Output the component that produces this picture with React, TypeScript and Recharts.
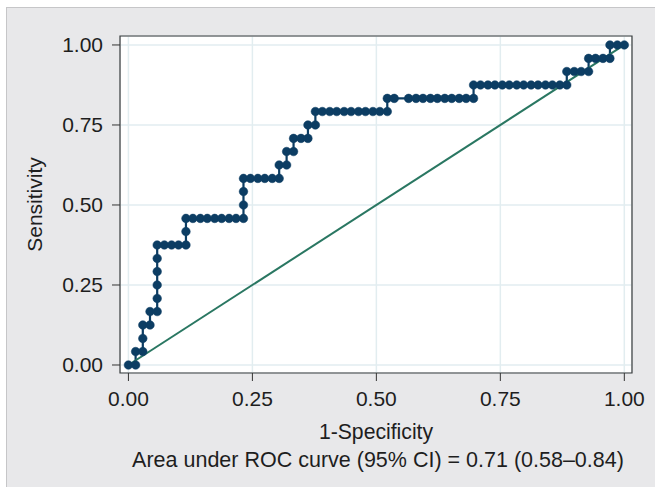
import {
  ComposedChart,
  Line,
  XAxis,
  YAxis,
  CartesianGrid,
  ReferenceArea,
} from 'recharts';

// ROC points: 1-specificity and sensitivity
const fprValues = [
  0, 0.0145, 0.0145, 0.029, 0.029, 0.029, 0.0435, 0.0435, 0.058, 0.058, 0.058, 0.058, 0.058, 0.058,
  0.0725, 0.087, 0.101, 0.116, 0.116, 0.116, 0.13, 0.145, 0.159, 0.174, 0.188, 0.203, 0.217, 0.232,
  0.232, 0.232, 0.232, 0.246, 0.261, 0.275, 0.29, 0.304, 0.304, 0.319, 0.319, 0.333, 0.333, 0.348,
  0.362, 0.362, 0.377, 0.377, 0.391, 0.406, 0.42, 0.435, 0.449, 0.464, 0.478, 0.493, 0.507, 0.522,
  0.522, 0.536, 0.565, 0.58, 0.594, 0.609, 0.623, 0.638, 0.652, 0.667, 0.681, 0.696, 0.696, 0.71,
  0.725, 0.739, 0.754, 0.768, 0.783, 0.797, 0.812, 0.826, 0.841, 0.855, 0.87, 0.884, 0.884, 0.899,
  0.913, 0.928, 0.928, 0.942, 0.957, 0.971, 0.971, 0.986, 1,
];

const sensValues = [
  0, 0, 0.042, 0.042, 0.083, 0.125, 0.125, 0.167, 0.167, 0.208, 0.25, 0.292, 0.333, 0.375,
  0.375, 0.375, 0.375, 0.375, 0.417, 0.458, 0.458, 0.458, 0.458, 0.458, 0.458, 0.458, 0.458, 0.458,
  0.5, 0.542, 0.583, 0.583, 0.583, 0.583, 0.583, 0.583, 0.625, 0.625, 0.667, 0.667, 0.708, 0.708,
  0.708, 0.75, 0.75, 0.792, 0.792, 0.792, 0.792, 0.792, 0.792, 0.792, 0.792, 0.792, 0.792, 0.792,
  0.833, 0.833, 0.833, 0.833, 0.833, 0.833, 0.833, 0.833, 0.833, 0.833, 0.833, 0.833, 0.875, 0.875,
  0.875, 0.875, 0.875, 0.875, 0.875, 0.875, 0.875, 0.875, 0.875, 0.875, 0.875, 0.875, 0.917, 0.917,
  0.917, 0.917, 0.958, 0.958, 0.958, 0.958, 1, 1, 1,
];

// chance line
const diagX = [0, 1];
const diagY = [0, 1];

const xTicks = [0, 0.25, 0.5, 0.75, 1];
const yTicks = [0, 0.25, 0.5, 0.75, 1];

const xTitle = '1-Specificity';
const yTitle = 'Sensitivity';
const note = 'Area under ROC curve (95% CI) = 0.71 (0.58–0.84)';

const rocData = fprValues.map((x, i) => ({ x, y: sensValues[i] }));
const diagData = diagX.map((x, i) => ({ x, y: diagY[i] }));

const NAVY = '#0c3d63';
const GREEN = '#2a7762';
const TEXT = '#1e1e1e';
const FONT = '"Liberation Sans", Arial, Helvetica, sans-serif';

const X_DOMAIN: [number, number] = [-0.017, 1.0155];
const Y_DOMAIN: [number, number] = [-0.025, 1.028];

const fmt = (v: number) => v.toFixed(2);

function XTitles(props: any) {
  const vb = props.viewBox || { x: 120, y: 373, width: 512, height: 114 };
  const cx = vb.x + vb.width / 2;
  return (
    <g fontFamily={FONT} fill={TEXT}>
      <text x={cx} y={vb.y + 65.5} textAnchor="middle" fontSize={21.2}>{xTitle}</text>
      <text x={cx + 2} y={vb.y + 93.7} textAnchor="middle" fontSize={21.5}>{note}</text>
    </g>
  );
}

function YTitle(props: any) {
  const vb = props.viewBox || { x: 0, y: 36, width: 120, height: 337 };
  const x = vb.x + 41.5;
  const y = vb.y + vb.height / 2;
  return (
    <text
      x={x}
      y={y}
      transform={`rotate(-90 ${x} ${y})`}
      textAnchor="middle"
      fontFamily={FONT}
      fontSize={21}
      fill={TEXT}
    >
      {yTitle}
    </text>
  );
}

export default function App() {
  return (
    <div style={{ position: 'absolute', left: 0, top: 0, width: 655, height: 487, background: '#fff' }}>
      <div
        style={{
          position: 'absolute',
          left: 6,
          top: 7,
          right: 0,
          bottom: 0,
          background: '#e8e8ea',
          borderLeft: '1px solid #c6c6c8',
          borderTop: '1px solid #c6c6c8',
        }}
      />
      <div style={{ position: 'absolute', left: 0, top: 0 }}>
        <ComposedChart width={655} height={487} margin={{ top: 36, right: 23, bottom: 0, left: 0 }}>
          <CartesianGrid fill="#fff" stroke="#e2edf0" strokeWidth={1.5} />
          <XAxis
            type="number"
            dataKey="x"
            domain={X_DOMAIN}
            allowDataOverflow
            ticks={xTicks}
            tickFormatter={fmt}
            axisLine={false}
            tickLine={{ stroke: '#333' }}
            tickSize={8}
            tickMargin={10}
            height={114}
            tick={{ fontSize: 21, fill: TEXT, fontFamily: FONT }}
            label={{ content: XTitles }}
          />
          <YAxis
            type="number"
            dataKey="y"
            domain={Y_DOMAIN}
            allowDataOverflow
            ticks={yTicks}
            tickFormatter={fmt}
            axisLine={false}
            tickLine={{ stroke: '#333' }}
            tickSize={8}
            tickMargin={9}
            width={120}
            tick={{ fontSize: 21, fill: TEXT, fontFamily: FONT }}
            label={{ content: YTitle }}
          />
          <ReferenceArea
            x1={X_DOMAIN[0]}
            x2={X_DOMAIN[1]}
            y1={Y_DOMAIN[0]}
            y2={Y_DOMAIN[1]}
            fill="none"
            stroke="#3a3a3a"
            strokeWidth={1.2}
            ifOverflow="visible"
          />
          <Line
            data={rocData}
            dataKey="y"
            type="linear"
            stroke={NAVY}
            strokeWidth={2.2}
            dot={{ r: 4.3, fill: NAVY, stroke: NAVY, strokeWidth: 0.5 }}
            activeDot={false}
            isAnimationActive={false}
          />
          <Line
            data={diagData}
            dataKey="y"
            type="linear"
            stroke={GREEN}
            strokeWidth={2}
            dot={false}
            activeDot={false}
            isAnimationActive={false}
          />
        </ComposedChart>
      </div>
    </div>
  );
}
